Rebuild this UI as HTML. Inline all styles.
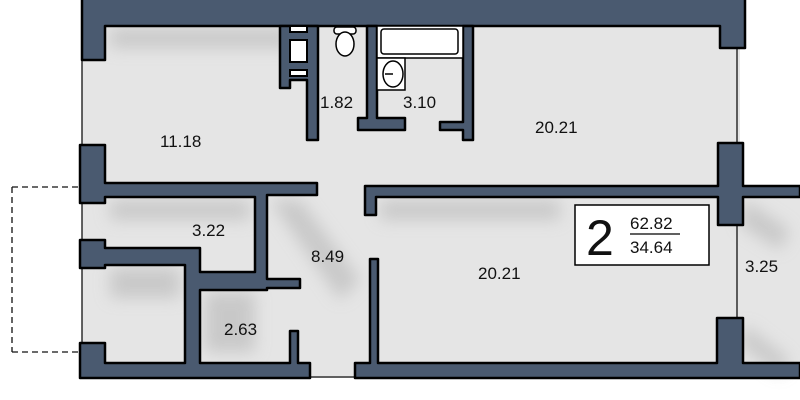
<!DOCTYPE html>
<html><head><style>body{margin:0;background:#fff}svg{display:block}text{font-family:"Liberation Sans",sans-serif;fill:#111}</style></head>
<body>
<svg width="800" height="400" viewBox="0 0 800 400">
<defs><filter id="b"><feGaussianBlur stdDeviation="8"/></filter></defs>
<rect x="82" y="0" width="658" height="378" fill="#e5e5e5"/>
<rect x="737" y="190" width="63" height="188" fill="#e5e5e5"/>
<g filter="url(#b)" fill="#bdbdbd" opacity="0.7">
<rect x="110" y="28" width="180" height="20"/>
<rect x="110" y="200" width="140" height="20"/>
<rect x="110" y="268" width="70" height="30"/>
<rect x="205" y="292" width="50" height="60"/>
<polygon points="270,200 300,200 360,280 340,300"/>
<rect x="380" y="200" width="180" height="20"/>
<polygon points="745,200 790,230 780,250 740,225"/>
<polygon points="745,325 790,360 780,375 740,345"/>
</g>
<path d="M12,187 H82 M12,352 H82 M12,187 V352" stroke="#111" stroke-width="1.3" stroke-dasharray="6,4" fill="none"/>
<path d="M82,60 V145 M82,203 V240 M82,268 V343 M310,377 H355 M737,48 V143 M737,225 V318" stroke="#111" stroke-width="1.3" fill="none"/>
<g fill="#4a5a70" stroke="#000" stroke-width="2.5" stroke-linejoin="round">
<path d="M82,-5 H745 V48 H720 V26 H105 V60 H82 Z"/>
<path d="M80,145 H105 V183 H317 V195 H267 V279 H300 V288 H267 V290 H200 V363 H290 V331 H298 V363 H310 V378 H80 V343 H105 V363 H185 V265 H105 V268 H80 V240 H105 V248 H200 V272 H255 V197 H105 V203 H80 Z"/>
<path d="M280,26 H318 V140 H307 V80 H290 V88 H280 Z" />
<path d="M367,26 H377 V118 H405 V130 H358 V118 H367 Z"/>
<path d="M463,26 H473 V140 H463 V130 H440 V122 H463 Z"/>
<path d="M365,186 H718 V143 H743 V186 H800 V197 H743 V225 H718 V197 H376 V215 H365 Z"/>
<path d="M370,259 H378 V363 H717 V318 H743 V363 H800 V378 H355 V363 H370 Z"/>
</g>
<rect x="290" y="40" width="17" height="22" fill="#fff" stroke="#000" stroke-width="2"/>
<rect x="290" y="26" width="17" height="6" fill="#fff" stroke="#000" stroke-width="2"/>
<rect x="290" y="70" width="17" height="6" fill="#fff" stroke="#000" stroke-width="2"/>
<rect x="334" y="27" width="22" height="7" rx="3" fill="#fff" stroke="#000" stroke-width="1.5"/>
<ellipse cx="345" cy="44" rx="9" ry="12" fill="#fff" stroke="#000" stroke-width="1.5"/>
<rect x="377" y="26" width="86" height="32" fill="#fff" stroke="#000" stroke-width="1.5"/>
<rect x="381" y="29" width="77" height="25" rx="3" fill="#fff" stroke="#000" stroke-width="1.5"/>
<rect x="377" y="58" width="28" height="32" fill="#fff" stroke="#000" stroke-width="1.5"/>
<ellipse cx="393" cy="74" rx="10" ry="13" fill="#fff" stroke="#000" stroke-width="1.5"/>
<path d="M385,74 H393" stroke="#000" stroke-width="1.5"/>
<g font-size="17">
<text x="160" y="147">11.18</text>
<text x="320" y="108">1.82</text>
<text x="403" y="108">3.10</text>
<text x="535" y="133">20.21</text>
<text x="192" y="236">3.22</text>
<text x="311" y="262">8.49</text>
<text x="478" y="279">20.21</text>
<text x="745" y="272">3.25</text>
<text x="224" y="335">2.63</text>
</g>
<rect x="575" y="205" width="134" height="60" fill="#fff" stroke="#000" stroke-width="1.5"/>
<text x="586" y="255" font-size="50">2</text>
<text x="630" y="229" font-size="17">62.82</text>
<path d="M630,234 H680" stroke="#000" stroke-width="1.2"/>
<text x="630" y="253" font-size="17">34.64</text>
</svg>
</body></html>
